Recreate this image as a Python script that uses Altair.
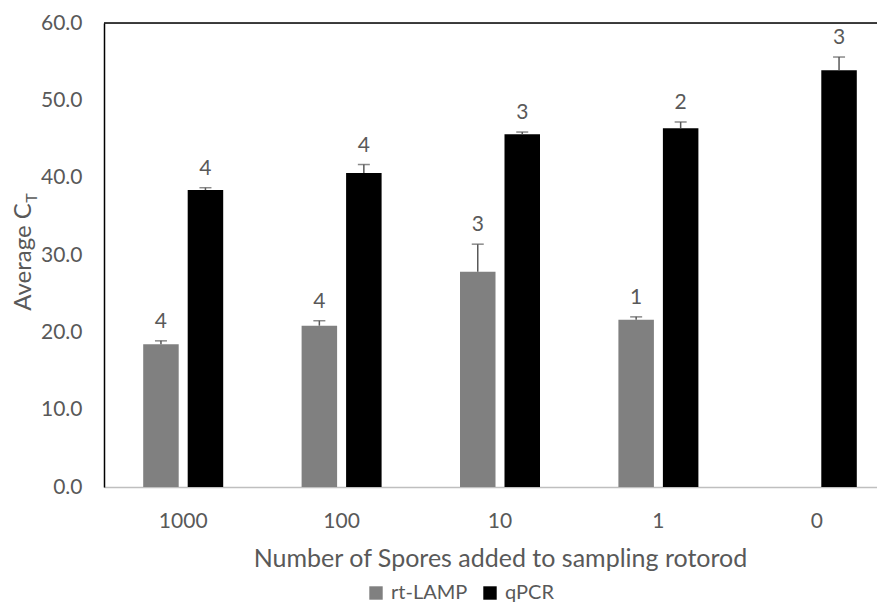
import altair as alt
import pandas as pd

categories = ["1000", "100", "10", "1", "0"]
methods = ["rt-LAMP", "qPCR"]
lamp_mean = [18.45, 20.86, 27.85, 21.64, None]
lamp_upper = [18.9, 21.5, 31.4, 22.0, None]
lamp_n = [4, 4, 3, 1, None]
qpcr_mean = [38.4, 40.6, 45.6, 46.4, 53.9]
qpcr_upper = [38.7, 41.7, 45.9, 47.2, 55.6]
qpcr_n = [4, 4, 3, 2, 3]
y_ticks = [0, 10, 20, 30, 40, 50, 60]
colors = ["#808080", "#000000"]

rows = []
for i, c in enumerate(categories):
    if lamp_mean[i] is not None:
        rows.append({"cat": c, "method": "rt-LAMP", "mean": lamp_mean[i],
                     "upper": lamp_upper[i], "n": str(lamp_n[i])})
    rows.append({"cat": c, "method": "qPCR", "mean": qpcr_mean[i],
                 "upper": qpcr_upper[i], "n": str(qpcr_n[i])})
df = pd.DataFrame(rows)

FONT = "Lato"
TXT = "#595959"
W, H = 773, 464

x_enc = alt.X("cat:N", sort=categories,
              scale=alt.Scale(domain=categories, range=[0, 792], paddingInner=0, paddingOuter=0),
              axis=alt.Axis(title="Number of Spores added to sampling rotorod", labelAngle=0,
                            ticks=False, domainColor="#BFBFBF", domainWidth=1.5,
                            labelPadding=23, titlePadding=15, labelFontSize=21,
                            titleFontSize=25, labelColor=TXT, titleColor=TXT,
                            labelFont=FONT, titleFont=FONT, titleFontWeight="normal"))
xo_enc = alt.XOffset("method:N", sort=methods,
                     scale=alt.Scale(domain=methods, paddingInner=0.202, paddingOuter=0.881))
y_scale = alt.Scale(domain=[0, 60], nice=False, zero=True)

bars = alt.Chart(df).mark_bar().encode(
    x=x_enc,
    xOffset=xo_enc,
    y=alt.Y("mean:Q", scale=y_scale,
            axis=alt.Axis(title=None, values=y_ticks, format=".1f", grid=False, ticks=False,
                          domainColor="#000000", domainWidth=1.5, labelPadding=22,
                          labelFontSize=21, labelColor=TXT, labelFont=FONT)),
    color=alt.Color("method:N", sort=methods,
                    scale=alt.Scale(domain=methods, range=colors),
                    legend=alt.Legend(title=None, orient="none", legendX=262, legendY=560,
                                      direction="horizontal", symbolType="square",
                                      symbolSize=180, symbolStrokeWidth=0,
                                      labelFontSize=20, labelColor=TXT, labelFont=FONT,
                                      columnPadding=12, padding=0, labelOffset=5)),
)

err = alt.Chart(df).mark_rule(color=TXT, strokeWidth=1.5).encode(
    x=alt.X("cat:N", sort=categories), xOffset=alt.XOffset("method:N", sort=methods),
    y=alt.Y("mean:Q"), y2="upper:Q",
)
caps = alt.Chart(df).mark_tick(color=TXT, thickness=1.5, size=12, orient="horizontal").encode(
    x=alt.X("cat:N", sort=categories), xOffset=alt.XOffset("method:N", sort=methods),
    y=alt.Y("upper:Q"),
)
labels = alt.Chart(df).mark_text(color=TXT, fontSize=21, font=FONT, baseline="bottom", dy=-9).encode(
    x=alt.X("cat:N", sort=categories), xOffset=alt.XOffset("method:N", sort=methods),
    y=alt.Y("upper:Q"), text="n:N",
)

top_line = alt.Chart(pd.DataFrame({"a": [0]})).mark_rule(color="#000000", strokeWidth=1.5).encode(
    x=alt.value(0), x2=alt.value(W), y=alt.value(0),
)
ytitle = alt.Chart(pd.DataFrame({"t": ["Average C"]})).mark_text(
    angle=270, fontSize=24, font=FONT, color=TXT, align="center", baseline="alphabetic"
).encode(x=alt.value(-73), y=alt.value(234), text="t:N")
ysub = alt.Chart(pd.DataFrame({"t": ["T"]})).mark_text(
    angle=270, fontSize=16, font=FONT, color=TXT, align="center", baseline="alphabetic"
).encode(x=alt.value(-67), y=alt.value(175), text="t:N")

chart = alt.layer(bars, err, caps, labels, top_line, ytitle, ysub).properties(
    width=W, height=H,
    autosize=alt.AutoSizeParams(type="none"),
    padding={"left": 96, "top": 15, "right": 0, "bottom": 116},
).configure_view(stroke=None).configure(font=FONT)

chart.save("out.html", embed_options={"renderer": "svg", "actions": False})
